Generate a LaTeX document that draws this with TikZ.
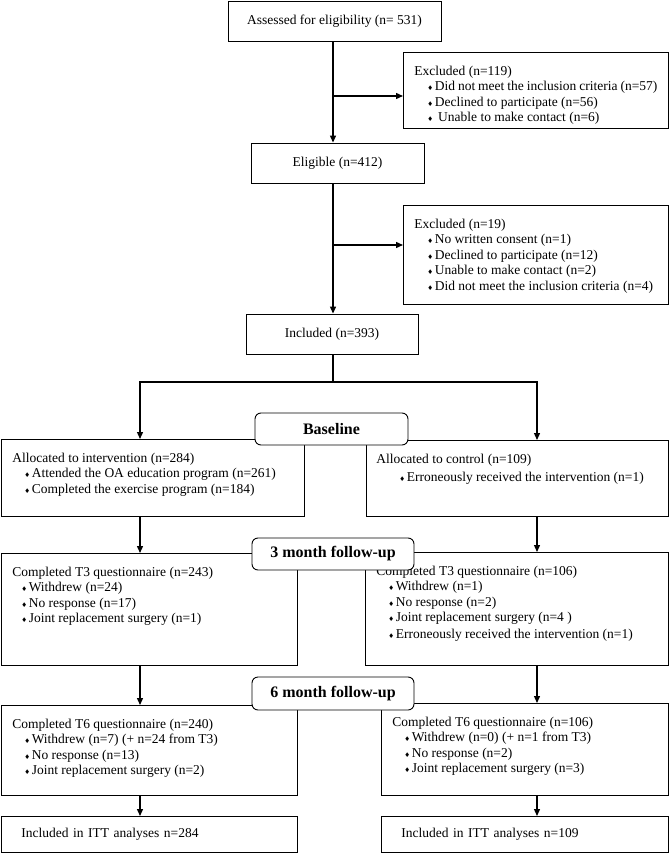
\documentclass[tikz,border=0pt]{standalone}
\usepackage{fontspec}
\setmainfont{Liberation Serif}
\newfontfamily\symfont{DejaVu Sans}
\usetikzlibrary{positioning,arrows.meta}
\tikzstyle{box}=[draw,line width=0.9pt,font=\fontsize{13.5}{15.5}\selectfont,inner sep=0pt]
\tikzstyle{listbox}=[box,anchor=north west,inner xsep=11pt,inner ysep=0pt]
\tikzstyle{ittbox}=[box,anchor=north west,minimum height=36pt,inner xsep=20pt]
\tikzstyle{stage}=[draw,fill=white,line width=0.9pt,rounded corners=6pt,font=\fontsize{16}{18}\selectfont\bfseries,inner sep=0pt]
\tikzstyle{flow}=[line width=1.3pt,-{Triangle[length=7pt,width=6pt]}]
\newcommand{\itm}[1][12pt]{\hspace*{#1}{\symfont\fontsize{6.5}{6.5}\selectfont ♦}\hspace{1.5pt}}
\newcommand{\lbox}[3]{\parbox[c][#2pt][t]{#1pt}{\rule{0pt}{23pt}#3}}

\begin{document}
\begin{tikzpicture}[x=1pt,y=-1pt]
  \useasboundingbox (0,0) rectangle (669,853);

  \node(assess)[box,minimum width=213pt,minimum height=40pt] at (334.5,21) {Assessed for eligibility (n= 531)};
  \node(excl1)[listbox] at (403,52) {\lbox{243}{76}{Excluded (n=119)\\
      \itm[13pt]Did not meet the inclusion criteria (n=57)\\
      \itm[13pt]Declined to participate (n=56)\\
      \itm[13pt]\ Unable to make contact (n=6)}};
  \node(elig)[box,minimum width=173pt,minimum height=40pt] at (337.5,163) {Eligible (n=412)};
  \node(excl2)[listbox] at (403,205) {\lbox{243}{99}{Excluded (n=19)\\
      \itm[13pt]No written consent (n=1)\\
      \itm[13pt]Declined to participate (n=12)\\
      \itm[13pt]Unable to make contact (n=2)\\
      \itm[13pt]Did not meet the inclusion criteria (n=4)}};
  \node(incl)[box,minimum width=172pt,minimum height=40pt] at (332,334) {Included (n=393)};

  \node(allocI)[listbox] at (1,439) {\lbox{281}{77}{Allocated to intervention (n=284)\\
      \itm Attended the OA education program (n=261)\\
      \itm Completed the exercise program (n=184)}};
  \node(allocC)[listbox,inner xsep=10pt] at (366,440) {\lbox{282}{76}{Allocated to control (n=109)\\[3pt]
      \itm[23pt]Erroneously received the intervention (n=1)}};

  \node(t3I)[listbox] at (1,553) {\lbox{274}{112}{Completed T3 questionnaire (n=243)\\
      \itm[9pt]Withdrew (n=24)\\
      \itm[9pt]No response (n=17)\\
      \itm[9pt]Joint replacement surgery (n=1)}};
  \node(t3C)[listbox] at (365,552) {\lbox{281}{113}{Completed T3 questionnaire (n=106)\\
      \itm Withdrew (n=1)\\
      \itm No response (n=2)\\
      \itm Joint replacement surgery (n=4 )\\[1.5pt]
      \itm Erroneously received the intervention (n=1)}};

  \node(t6I)[listbox] at (1,705) {\lbox{274}{90}{Completed T6 questionnaire (n=240)\\
      \itm Withdrew (n=7) (+ n=24 from T3)\\
      \itm No response (n=13)\\
      \itm Joint replacement surgery (n=2)}};
  \node(t6C)[listbox] at (381,703) {\lbox{265}{92}{Completed T6 questionnaire (n=106)\\
      \itm Withdrew (n=0) (+ n=1 from T3)\\
      \itm No response (n=2)\\
      \itm Joint replacement surgery (n=3)}};

  \node(ittI)[ittbox,text width=256pt] at (1,816) {Included in ITT analyses n=284};
  \node(ittC)[ittbox,text width=247pt] at (381,816) {Included in ITT analyses n=109};

  \coordinate(colM) at (333,0);
  \coordinate(colI) at (140,0);
  \coordinate(colC) at (537,0);
  \coordinate(fork1) at (333,96);
  \coordinate(fork2) at (333,245);
  \coordinate(split) at (333,382);

  % screening column
  \draw[flow] (assess.south -| colM) -- (elig.north -| colM);
  \draw[flow] (fork1) -- (fork1 -| excl1.west);
  \draw[flow] (elig.south -| colM) -- (incl.north -| colM);
  \draw[flow] (fork2) -- (fork2 -| excl2.west);
  \draw[line width=1.3pt] (incl.south -| colM) -- (split);
  \draw[flow] (split) -| (allocI.north -| colI);
  \draw[flow] (split) -| (allocC.north -| colC);
  % arms
  \draw[flow] (allocI.south -| colI) -- (t3I.north -| colI);
  \draw[flow] (allocC.south -| colC) -- (t3C.north -| colC);
  \draw[flow] (t3I.south -| colI) -- (t6I.north -| colI);
  \draw[flow] (t3C.south -| colC) -- (t6C.north -| colC);
  \draw[flow] (t6I.south -| colI) -- (ittI.north -| colI);
  \draw[flow] (t6C.south -| colC) -- (ittC.north -| colC);

  \node(base)[stage,minimum width=153pt,minimum height=32pt] at (331.5,429) {Baseline};
  \node(m3)[stage,minimum width=162pt,minimum height=32pt] at (333,554) {3 month follow-up};
  \node(m6)[stage,minimum width=162pt,minimum height=33pt] at (333,693.5) {6 month follow-up};
\end{tikzpicture}
\end{document}
